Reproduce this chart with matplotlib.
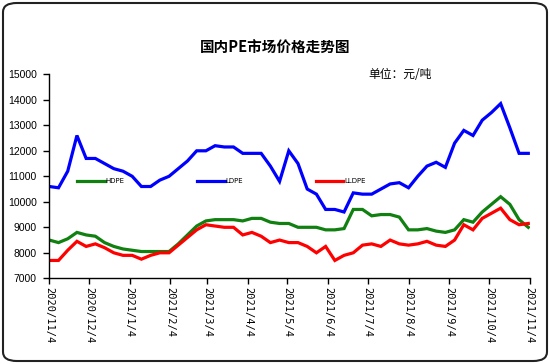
import matplotlib
matplotlib.use("Agg")
import matplotlib.pyplot as plt
from matplotlib.patches import FancyBboxPatch
import pandas as pd

# weekly prices, 2020/11/4 .. 2021/11/3
start_date = "2020-11-04"
hdpe = [8500, 8400, 8550, 8800, 8700, 8650, 8400, 8250, 8150, 8100,
        8050, 8050, 8050, 8050, 8350, 8700, 9050, 9250, 9300, 9300,
        9300, 9250, 9350, 9350, 9200, 9150, 9150, 9000, 9000, 9000,
        8900, 8900, 8950, 9700, 9700, 9450, 9500, 9500, 9400, 8900,
        8900, 8950, 8850, 8800, 8900, 9300, 9200, 9600, 9900, 10200,
        9900, 9300, 9000]
ldpe = [10600, 10550, 11200, 12600, 11700, 11700, 11500, 11300, 11200, 11000,
        10600, 10600, 10850, 11000, 11300, 11600, 12000, 12000, 12200, 12150,
        12150, 11900, 11900, 11900, 11400, 10800, 12000, 11500, 10500, 10300,
        9700, 9700, 9600, 10350, 10300, 10300, 10500, 10700, 10750, 10550,
        11000, 11400, 11550, 11350, 12300, 12800, 12600, 13200, 13500, 13850,
        12900, 11900, 11900]
lldpe = [7700, 7700, 8100, 8450, 8250, 8350, 8200, 8000, 7900, 7900,
         7750, 7900, 8000, 8000, 8300, 8600, 8900, 9100, 9050, 9000,
         9000, 8700, 8800, 8650, 8400, 8500, 8400, 8400, 8250, 8000,
         8250, 7700, 7900, 8000, 8300, 8350, 8250, 8500, 8350, 8300,
         8350, 8450, 8300, 8250, 8500, 9100, 8900, 9350, 9550, 9750,
         9300, 9100, 9150]
series_names = ["HDPE", "LDPE", "LLDPE"]
series_colors = ["#108010", "#0000ff", "#ff0000"]

dates = pd.date_range(start_date, periods=len(hdpe), freq="7D")
month_ticks = pd.date_range("2020-11-01", "2021-11-01", freq="MS") + pd.Timedelta(days=3)

fig = plt.figure(figsize=(5.5, 3.64), dpi=100)
ax = fig.add_axes([49.3 / 550, 1 - 278.3 / 364, 480.3 / 550, 204 / 364])

for vals, name, col in zip([hdpe, ldpe, lldpe], series_names, series_colors):
    ax.plot(dates, vals, color=col, lw=2.3, label=name, solid_joinstyle="miter")

ax.set_ylim(7000, 15000)
ax.set_yticks(range(7000, 15001, 1000))
ax.set_xlim(pd.Timestamp("2020-11-04"), pd.Timestamp("2021-11-04"))
ax.set_xticks(month_ticks)
ax.set_xticklabels([f"{d.year}/{d.month}/{d.day}" for d in month_ticks],
                   rotation=270, fontsize=7.5, family="DejaVu Sans Mono")
for t in ax.get_yticklabels():
    t.set_fontsize(7.5)
    t.set_family("Liberation Sans")
ax.tick_params(axis="y", direction="out", length=4, width=1, pad=5)
ax.tick_params(axis="x", direction="out", length=4, width=1, pad=2)
for s in ["top", "right"]:
    ax.spines[s].set_visible(False)
for s in ["left", "bottom"]:
    ax.spines[s].set_linewidth(1)

ax.legend(ncol=3, frameon=False, fontsize=5, handlelength=4.0, handletextpad=0.15,
          columnspacing=10.4, borderpad=0, borderaxespad=0, loc="center left",
          bbox_to_anchor=(77 / 550, 1 - 181 / 364), bbox_transform=fig.transFigure)

cjk = ["Noto Sans CJK SC", "DejaVu Sans"]
fig.text(0.5, 1 - 48 / 364, "国内PE市场价格走势图", ha="center", va="center",
         fontsize=10.5, fontweight="bold", family=cjk)
fig.text(400 / 550, 1 - 75 / 364, "单位：元/吨", ha="center", va="center",
         fontsize=8.5, family=cjk)

border = FancyBboxPatch((3 / 550, 3 / 364), 544 / 550, 358 / 364,
                        boxstyle="round,pad=0,rounding_size=0.025",
                        transform=fig.transFigure, fill=False,
                        edgecolor="#222222", lw=1.5)
fig.patches.append(border)

fig.savefig("out.png", dpi=100)
